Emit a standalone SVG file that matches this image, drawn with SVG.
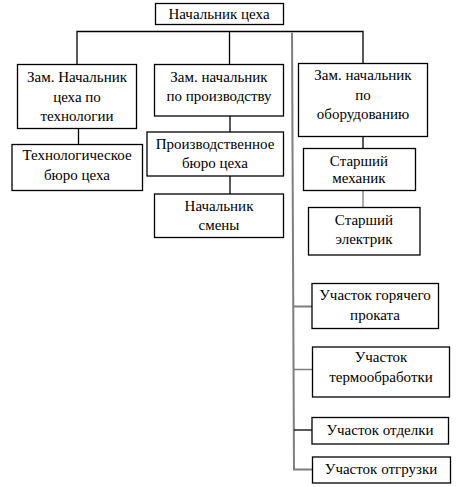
<svg xmlns="http://www.w3.org/2000/svg" width="463" height="487" viewBox="0 0 463 487">
<rect width="463" height="487" fill="#fff"/>
<g id="connectors" fill="none" stroke="#000" stroke-width="1.3">
<polyline points="77,64 77,31.5 363,31.5 363,63"/>
<line x1="229.5" y1="31.5" x2="229.5" y2="64"/>
<line x1="78.5" y1="128" x2="78.5" y2="144"/>
<line x1="230" y1="116" x2="230" y2="132"/>
<line x1="230" y1="176" x2="230" y2="194"/>
<line x1="363" y1="137" x2="363" y2="148"/>
<line x1="363" y1="190" x2="363" y2="207" stroke="#7f7f7f"/>
<g stroke="#7f7f7f" stroke-width="2">
<polyline points="292,32.5 294,469.5 312,469.5"/>
<line x1="293.5" y1="306.5" x2="312" y2="306.5"/>
<line x1="293.8" y1="369.5" x2="312" y2="369.5" stroke-width="1.5"/>
</g>
<line x1="294" y1="430" x2="312" y2="430"/>
</g>
<g font-family="Liberation Serif" font-size="15" text-anchor="middle">
<g fill="#fff" stroke="#000" stroke-width="1.3">
<rect id="r0" x="155.5" y="3.5" width="128" height="21"/>
<rect id="r1" x="17.5" y="64.5" width="119" height="64"/>
<rect id="r2" x="154.5" y="64.5" width="129" height="51.5"/>
<rect id="r3" x="298.5" y="63.5" width="129" height="73"/>
<rect id="r4" x="12" y="144.5" width="130.5" height="46"/>
<rect id="r5" x="147" y="132" width="136.5" height="44"/>
<rect id="r6" x="154.5" y="194" width="129" height="43.5"/>
<rect id="r7" x="303.5" y="148.5" width="112" height="42"/>
<rect id="r8" x="308.5" y="207.5" width="111.5" height="47.5"/>
<rect id="r9" x="312" y="283.5" width="126.5" height="45"/>
<rect id="r10" x="312.5" y="347" width="137" height="50"/>
<rect id="r11" x="312" y="417.5" width="136.5" height="26.5"/>
<rect id="r12" x="312.5" y="457" width="138" height="26"/>
</g>
<g fill="#000">
<g id="n0"><text x="219" y="18.5">Начальник цеха</text></g>
<g id="n1"><text x="77" y="81.5">Зам. Начальник</text><text x="77" y="101.5">цеха по</text><text x="77" y="121">технологии</text></g>
<g id="n2"><text x="219" y="81.5">Зам. начальник</text><text x="219" y="100.5">по производству</text></g>
<g id="n3"><text x="363" y="80">Зам. начальник</text><text x="363" y="100">по</text><text x="363" y="119">оборудованию</text></g>
<g id="n4"><text x="77" y="160">Технологическое</text><text x="77" y="180">бюро цеха</text></g>
<g id="n5"><text x="215" y="148.5">Производственное</text><text x="215" y="168">бюро цеха</text></g>
<g id="n6"><text x="219" y="210.5">Начальник</text><text x="219" y="230">смены</text></g>
<g id="n7"><text x="359" y="166">Старший</text><text x="359" y="182.5">механик</text></g>
<g id="n8"><text x="364" y="225">Старший</text><text x="364" y="243.5">электрик</text></g>
<g id="n9"><text x="375" y="300">Участок горячего</text><text x="375" y="319.5">проката</text></g>
<g id="n10"><text x="381" y="362">Участок</text><text x="381" y="382">термообработки</text></g>
<g id="n11"><text x="380" y="435">Участок отделки</text></g>
<g id="n12"><text x="381" y="473.5">Участок отгрузки</text></g>
</g>
</g>
</svg>
